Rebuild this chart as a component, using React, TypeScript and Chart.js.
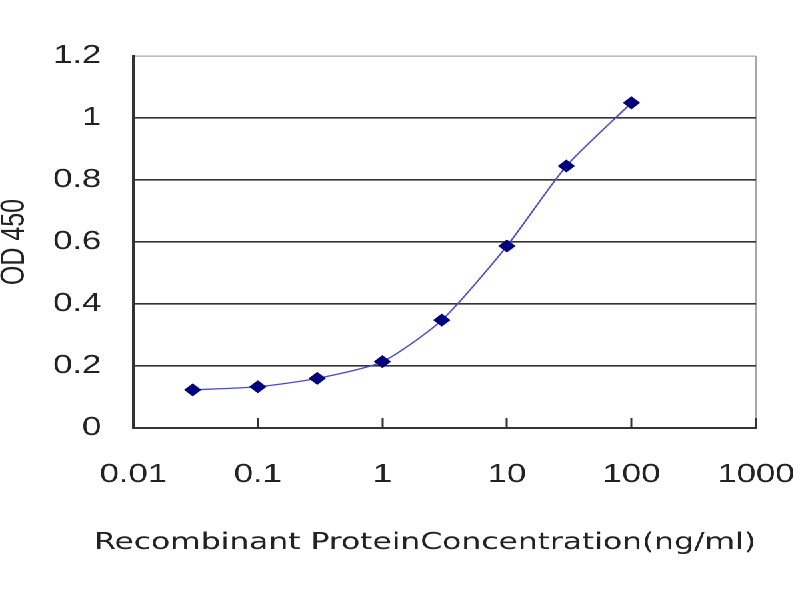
import { useEffect, useRef } from 'react';
import { Chart, registerables } from 'chart.js';

Chart.register(...registerables);

// Data
const concentrations = [0.03, 0.1, 0.3, 1, 3, 10, 30, 100];
const odValues = [0.123, 0.133, 0.16, 0.214, 0.348, 0.587, 0.845, 1.049];

const xTickValues = [0.01, 0.1, 1, 10, 100, 1000];
const xTickLabels = ['0.01', '0.1', '1', '10', '100', '1000'];
const yTickValues = [0, 0.2, 0.4, 0.6, 0.8, 1, 1.2];
const yTickLabels = ['0', '0.2', '0.4', '0.6', '0.8', '1', '1.2'];

const xTitle = 'Recombinant ProteinConcentration(ng/ml)';
const yTitle = 'OD 450';

const FONT = "'Liberation Sans', Arial, sans-serif";
const WIDE_FONT = "'DejaVu Sans', Verdana, sans-serif";

const TITLE_SIZE = 23.5;
const TITLE_PAD_BOTTOM = 43;
const TITLE_BOX = TITLE_SIZE * 1.2 + TITLE_PAD_BOTTOM;

export default function App() {
  const canvasRef = useRef<HTMLCanvasElement | null>(null);

  useEffect(() => {
    document.body.style.margin = '0';
    const canvas = canvasRef.current;
    if (!canvas) return;

    const points = concentrations.map((c, i) => ({ x: c, y: odValues[i] }));

    const chart = new Chart(canvas, {
      type: 'line',
      data: {
        datasets: [
          {
            data: points,
            borderColor: '#4b4bc4',
            borderWidth: 1.3,
            tension: 0.22,
            fill: false,
            pointStyle: 'rectRot',
            pointRadius: 5.8,
            pointBackgroundColor: '#00007a',
            pointBorderColor: '#00007a',
            pointBorderWidth: 1,
          },
        ],
      },
      options: {
        animation: false,
        responsive: false,
        devicePixelRatio: 2,
        events: [],
        layout: { padding: { top: 56, right: 33, left: 0, bottom: 0 } },
        plugins: {
          legend: { display: false },
          tooltip: { enabled: false },
          title: {
            display: true,
            position: 'bottom',
            align: 'end',
            text: xTitle,
            color: '#222',
            font: { family: WIDE_FONT, size: TITLE_SIZE, weight: 'normal' },
            padding: { top: 0, bottom: TITLE_PAD_BOTTOM },
          },
        },
        scales: {
          x: {
            type: 'logarithmic',
            min: 0.01,
            max: 1000,
            afterBuildTicks: (scale: any) => {
              scale.ticks = xTickValues.map((v) => ({ value: v }));
            },
            afterFit: (scale: any) => {
              scale.height = 172 - TITLE_BOX;
              scale.paddingLeft = 0;
              scale.paddingRight = 0;
            },
            ticks: {
              autoSkip: false,
              maxRotation: 0,
              padding: 41,
              color: '#222',
              font: { family: FONT, size: 26 },
              callback: (value: any) => {
                const i = xTickValues.indexOf(Number(value));
                return i >= 0 ? xTickLabels[i] : '';
              },
            },
            grid: {
              display: true,
              drawOnChartArea: true,
              drawTicks: true,
              tickLength: -10,
              tickColor: '#333',
              tickWidth: 1.5,
              color: (ctx: any) => (ctx.tick && ctx.tick.value === 1000 ? '#a8a8a8' : 'rgba(0,0,0,0)'),
              lineWidth: 1,
            },
            border: { display: true, color: '#333', width: 2 },
          },
          y: {
            type: 'linear',
            min: 0,
            max: 1.2,
            afterBuildTicks: (scale: any) => {
              scale.ticks = yTickValues.map((v) => ({ value: v }));
            },
            afterFit: (scale: any) => {
              scale.width = 100;
            },
            ticks: {
              padding: 24,
              color: '#222',
              font: { family: FONT, size: 26 },
              callback: (value: any) => {
                const i = yTickValues.findIndex((v) => Math.abs(v - Number(value)) < 1e-9);
                return i >= 0 ? yTickLabels[i] : '';
              },
            },
            grid: {
              drawTicks: false,
              color: (ctx: any) => (ctx.tick && Math.abs(ctx.tick.value - 1.2) < 1e-9 ? '#a8a8a8' : '#333'),
              lineWidth: (ctx: any) => (ctx.tick && Math.abs(ctx.tick.value - 1.2) < 1e-9 ? 1.2 : 1.6),
            },
            border: { display: true, color: '#333', width: 2 },
            title: {
              display: true,
              text: yTitle,
              color: '#222',
              font: { family: FONT, size: 25, lineHeight: 0.8 },
              padding: { top: 1, bottom: 0 },
            },
          },
        },
      },
    });

    return () => {
      chart.destroy();
    };
  }, []);

  return (
    <div
      style={{
        position: 'fixed',
        left: 0,
        top: 0,
        width: 600,
        height: 600,
        background: '#fff',
        transform: 'scaleX(1.3333)',
        transformOrigin: '0 0',
      }}
    >
      <canvas ref={canvasRef} width={600} height={600} style={{ width: 600, height: 600, display: 'block' }} />
    </div>
  );
}
